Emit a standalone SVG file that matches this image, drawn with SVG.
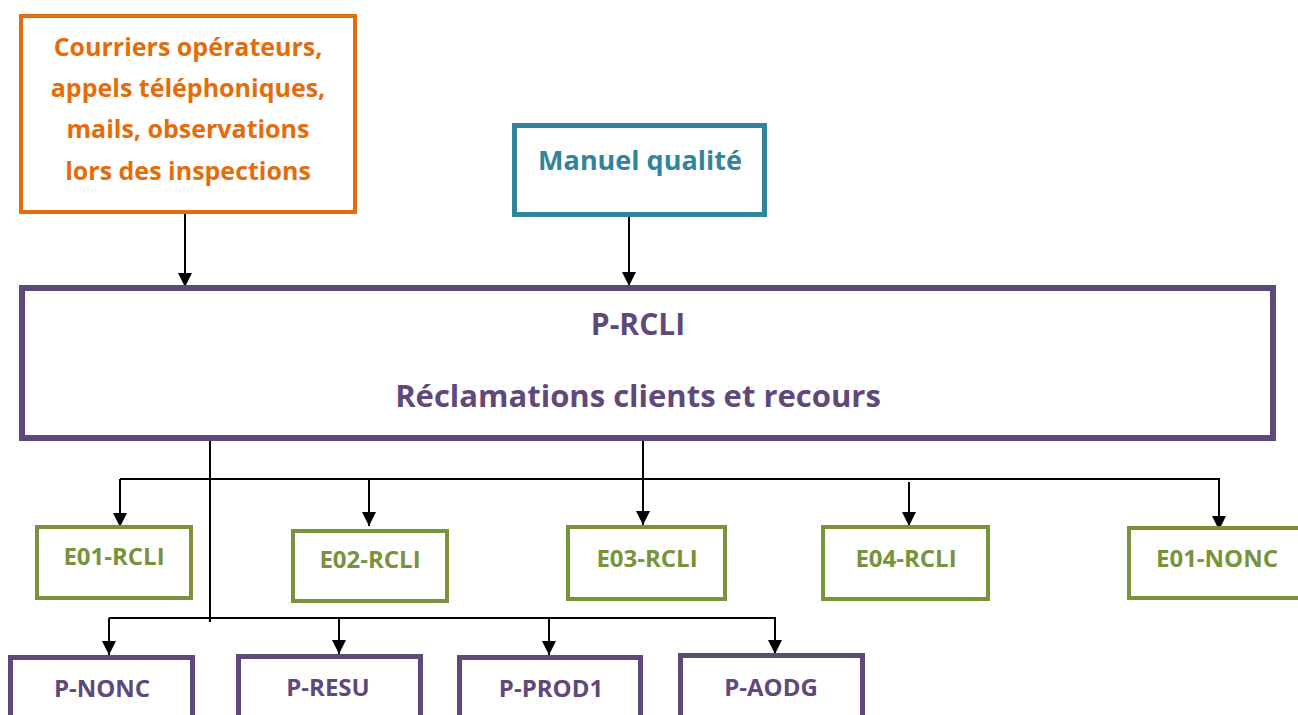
<svg xmlns="http://www.w3.org/2000/svg" width="1298" height="715" viewBox="0 0 1298 715">
<style>
text{font-family:"Open Sans","Noto Sans","Liberation Sans",sans-serif;font-weight:bold;text-anchor:middle}
.box{fill:#fff}
.orange{stroke:#E46C0A;stroke-width:4}
.teal{stroke:#31849B;stroke-width:5}
.purple{stroke:#5F497A;stroke-width:5}
.green{stroke:#77933C;stroke-width:4}
.to{fill:#E46C0A;font-size:25px}
.tt{fill:#31849B;font-size:27px}
.tp{fill:#5F497A}
.tg{fill:#77933C;font-size:24px}
.c{fill:none;stroke:#000;stroke-width:2}
</style>
<defs>
<marker id="ah" markerUnits="userSpaceOnUse" markerWidth="14" markerHeight="14" refX="14" refY="7" orient="auto">
<path d="M0,0 L14,7 L0,14 z" fill="#000"/>
</marker>
</defs>
<rect width="1298" height="715" fill="#fff"/>
<g id="connectors">
<line class="c" x1="185" y1="214" x2="185" y2="287" marker-end="url(#ah)"/>
<line class="c" x1="629" y1="217" x2="629" y2="286" marker-end="url(#ah)"/>
<line class="c" x1="643" y1="441" x2="643" y2="525" marker-end="url(#ah)"/>
<polyline class="c" points="120,479 1219,479 1219,530" marker-end="url(#ah)"/>
<line class="c" x1="120" y1="479" x2="120" y2="527" marker-end="url(#ah)"/>
<line class="c" x1="369" y1="479" x2="369" y2="526" marker-end="url(#ah)"/>
<line class="c" x1="909" y1="482" x2="909" y2="526" marker-end="url(#ah)"/>
<line class="c" x1="210" y1="441" x2="210" y2="622"/>
<polyline class="c" points="109,618 775,618 775,654" marker-end="url(#ah)"/>
<line class="c" x1="109" y1="618" x2="109" y2="655" marker-end="url(#ah)"/>
<line class="c" x1="339" y1="618" x2="339" y2="654" marker-end="url(#ah)"/>
<line class="c" x1="549" y1="618" x2="549" y2="655" marker-end="url(#ah)"/>
</g>
<g id="n-courriers">
<rect class="box orange" x="21" y="16" width="334" height="196"/>
<text class="to" x="188" y="56">Courriers opérateurs,</text>
<text class="to" x="188" y="97">appels téléphoniques,</text>
<text class="to" x="188" y="138">mails, observations</text>
<text class="to" x="188" y="180">lors des inspections</text>
</g>
<g id="n-manuel">
<rect class="box teal" x="514.5" y="125.5" width="250" height="89"/>
<text class="tt" x="640" y="170">Manuel qualité</text>
</g>
<g id="n-prcli">
<rect class="box purple" x="22" y="288" width="1251" height="150" style="stroke-width:6"/>
<text class="tp" x="638" y="335" style="font-size:30px">P-RCLI</text>
<text class="tp" x="638" y="407" style="font-size:31px">Réclamations clients et recours</text>
</g>
<g id="n-e01rcli">
<rect class="box green" x="37" y="527" width="154" height="71"/>
<text class="tg" x="114" y="565">E01-RCLI</text>
</g>
<g id="n-e02rcli">
<rect class="box green" x="293" y="531" width="154" height="70"/>
<text class="tg" x="370" y="568">E02-RCLI</text>
</g>
<g id="n-e03rcli">
<rect class="box green" x="568" y="527" width="157" height="72"/>
<text class="tg" x="647" y="567">E03-RCLI</text>
</g>
<g id="n-e04rcli">
<rect class="box green" x="823" y="527" width="165" height="72"/>
<text class="tg" x="906" y="567">E04-RCLI</text>
</g>
<g id="n-e01nonc">
<rect class="box green" x="1129" y="528" width="180" height="70"/>
<text class="tg" x="1217" y="567">E01-NONC</text>
</g>
<g id="n-pnonc">
<rect class="box purple" x="10.5" y="657.5" width="182" height="70"/>
<text class="tp" x="102" y="697" style="font-size:24px">P-NONC</text>
</g>
<g id="n-presu">
<rect class="box purple" x="238.5" y="656.5" width="182" height="70"/>
<text class="tp" x="328" y="696" style="font-size:24px">P-RESU</text>
</g>
<g id="n-pprod1">
<rect class="box purple" x="459.5" y="657.5" width="181" height="70"/>
<text class="tp" x="551" y="697" style="font-size:24px">P-PROD1</text>
</g>
<g id="n-paodg">
<rect class="box purple" x="680.5" y="655.5" width="182" height="70"/>
<text class="tp" x="771" y="696" style="font-size:24px">P-AODG</text>
</g>
</svg>
